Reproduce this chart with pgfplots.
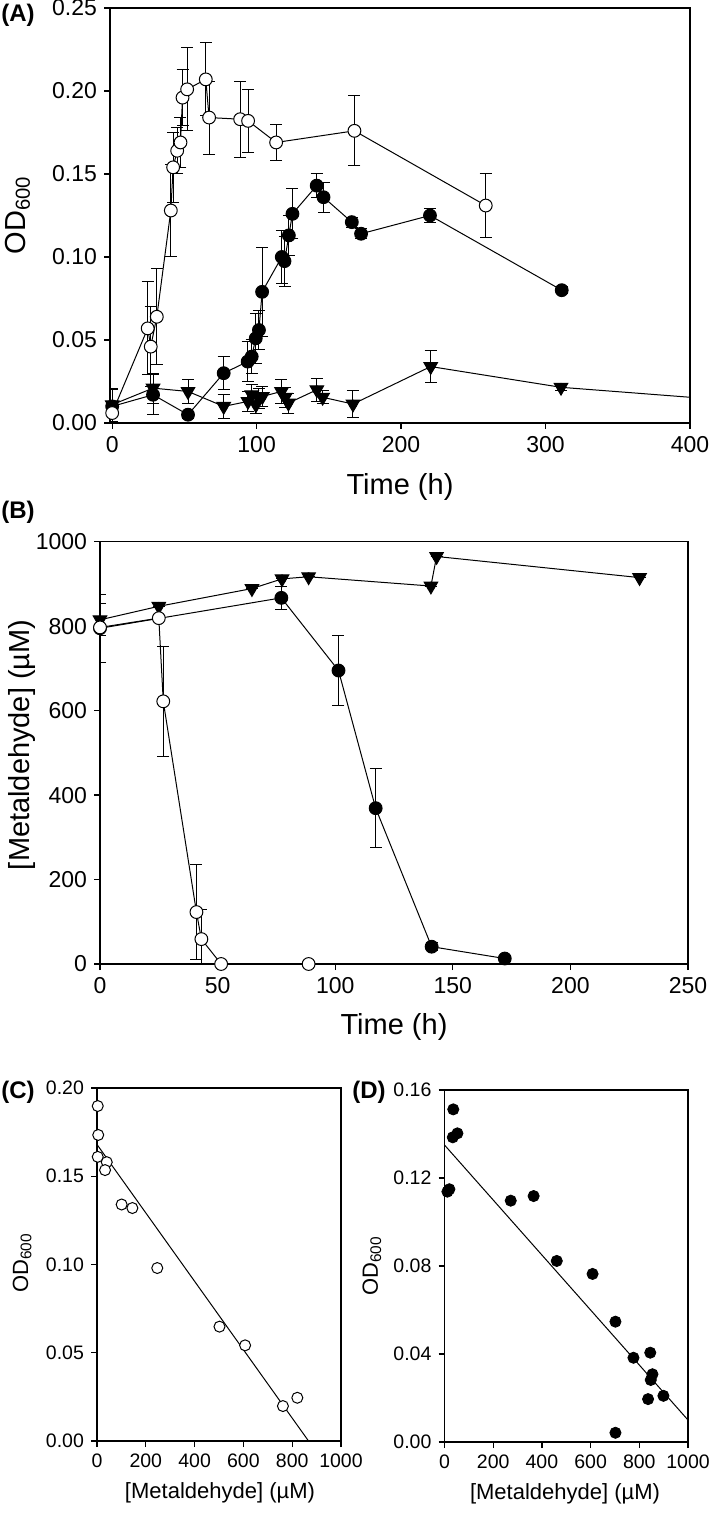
\documentclass[border=0pt]{standalone}
\usepackage{fontspec}
\setmainfont{Liberation Sans}
\usepackage{pgfplots}
\usepackage{pgfplotstable}
\pgfplotsset{compat=1.18}

% Panel A: OD600 vs time
\pgfplotstableread{
x y e
0 0.006 0.006
24.6 0.057 0.028
26.7 0.046 0.024
30.9 0.064 0.029
40.6 0.128 0.028
42.2 0.154 0.021
45.0 0.164 0.014
47.3 0.169 0.015
48.7 0.196 0.017
51.9 0.201 0.025
64.8 0.207 0.022
67.1 0.184 0.022
88.6 0.183 0.023
94.1 0.182 0.019
113.5 0.169 0.011
167.7 0.176 0.021
258.6 0.131 0.0195
}\Aopen
\pgfplotstableread{
x y e
0 0.010 0.010
28.3 0.017 0.012
52.5 0.005 0.002
77.2 0.030 0.010
93.8 0.037 0.012
96.6 0.040 0.010
99.4 0.051 0.015
101.6 0.056 0.012
103.8 0.079 0.027
117.4 0.100 0.016
119.3 0.0975 0.015
122.3 0.113 0.012
124.8 0.126 0.015
141.6 0.143 0.007
146.3 0.136 0.009
165.9 0.121 0.003
172.3 0.114 0.003
220.0 0.125 0.004
311.2 0.080 0.002
}\Afill
\pgfplotstableread{
x y e
0 0.011 0.010
28.3 0.021 0.009
52.5 0.019 0.007
77.2 0.010 0.007
94.0 0.013 0.006
96.6 0.017 0.006
99.5 0.011 0.005
101.5 0.015 0.006
104.0 0.016 0.006
117.2 0.019 0.007
119.8 0.0155 0.006
122.0 0.012 0.006
141.7 0.020 0.007
145.7 0.0155 0.004
166.7 0.0114 0.008
220.5 0.034 0.0095
310.7 0.0215 0.002
}\Atri

% Panel B: metaldehyde vs time
\pgfplotstableread{
x y e
0 797 0
25 819 0
26.9 622 130
41 123 112
43.1 59 70
51.5 0 0
88.7 0 0
}\Bopen
\pgfplotstableread{
x y e
0 795 80
77.1 867 28
101.4 695 84
117.2 369 93
141 41 10
172.1 13 5
}\Bfill
\pgfplotstableread{
x y e
0 815 38
25 847 0
64.6 889 0
77.4 912 0
88.7 917 0
140.7 895 0
143.1 965 0
229.4 915 0
}\Btri

% Panel C
\pgfplotstableread{
x y
3 0.1898
5 0.1734
3 0.161
40 0.158
33 0.1535
101 0.134
145 0.132
247 0.098
502 0.0648
607 0.0542
762 0.0198
821 0.0245
}\Cdata

% Panel D
\pgfplotstableread{
x y
36 0.1512
34 0.1385
53 0.1403
12 0.1138
20 0.1149
272 0.1097
366 0.1118
461 0.0823
608 0.0764
702 0.0547
776 0.0383
845 0.0406
854 0.0308
847 0.0282
836 0.0195
899 0.0210
702 0.0042
}\Ddata

\pgfplotsset{
  panel/.style={scale only axis, axis line style={line width=0.6pt},
    tick pos=left, tick align=outside, major tick length=3pt,
    every tick/.style={black, line width=0.6pt},
    /pgf/number format/assume math mode=true,
    /pgf/number format/1000 sep={}},
  bigfont/.style={tick label style={font=\fontsize{11.5}{13}\selectfont},
    label style={font=\fontsize{14.5}{16}\selectfont}},
  smallfont/.style={tick label style={font=\fontsize{9.75}{11}\selectfont},
    label style={font=\fontsize{11}{13}\selectfont}},
  twodec/.style={yticklabel style={/pgf/number format/.cd, fixed, fixed zerofill, precision=2}},
  errs/.style={forget plot, black, only marks, mark=none,
    error bars/.cd, y dir=both, y explicit, error mark=|,
    error bar style={draw=black, line width=0.5pt, solid},
    error mark options={draw=black, mark size=3pt, line width=0.5pt}},
  openc/.style={black, line width=0.5pt, mark=*, mark size=3.2pt,
    mark options={fill=white, draw=black, line width=0.5pt, solid}},
  fillc/.style={black, line width=0.5pt, mark=*, mark size=3.2pt,
    mark options={fill=black, draw=black, solid}},
  tri/.style={black, line width=0.5pt, mark=triangle*, mark size=3.9pt,
    mark options={fill=black, draw=black, rotate=180, solid}},
}

\begin{document}
\begin{tikzpicture}
\useasboundingbox (0,0) rectangle (354.5pt,-756.5pt);

% ---------------- Panel A ----------------
\begin{axis}[panel, bigfont, twodec,
  at={(55pt,-4pt)}, anchor=north west, width=290pt, height=207.5pt,
  xmin=-1.5, xmax=400, ymin=0, ymax=0.25,
  xtick={0,100,200,300,400}, ytick={0,0.05,0.10,0.15,0.20,0.25},
  xlabel={Time (h)}, ylabel={OD\textsubscript{600}},
  xlabel style={at={(axis description cs:0.5,-0.154)}, anchor=center},
  ylabel style={at={(axis description cs:-0.159,0.501)}, anchor=center}]
\addplot[errs] table[x=x,y=y,y error=e] {\Atri};
\addplot[errs] table[x=x,y=y,y error=e] {\Afill};
\addplot[errs] table[x=x,y=y,y error=e] {\Aopen};
\addplot[black, line width=0.5pt, mark=none, forget plot] coordinates {(310.7,0.0215) (400,0.0155)};
\addplot[tri] table[x=x,y=y] {\Atri};
\addplot[fillc] table[x=x,y=y] {\Afill};
\addplot[openc] table[x=x,y=y] {\Aopen};
\end{axis}

% ---------------- Panel B ----------------
\begin{axis}[panel, bigfont,
  at={(50pt,-270.85pt)}, anchor=north west, width=294pt, height=211.15pt,
  xmin=0, xmax=250, ymin=0, ymax=1000,
  xtick={0,50,100,150,200,250}, ytick={0,200,400,600,800,1000},
  xlabel={Time (h)}, ylabel={[Metaldehyde] (µM)},
  xlabel style={at={(axis description cs:0.5,-0.149)}, anchor=center},
  ylabel style={at={(axis description cs:-0.133,0.519)}, anchor=center}]
\addplot[errs] table[x=x,y=y,y error=e] {\Btri};
\addplot[errs] table[x=x,y=y,y error=e] {\Bfill};
\addplot[errs] table[x=x,y=y,y error=e] {\Bopen};
\addplot[tri] table[x=x,y=y] {\Btri};
\addplot[fillc] table[x=x,y=y] {\Bfill};
\addplot[openc] table[x=x,y=y] {\Bopen};
\end{axis}

% ---------------- Panel C ----------------
\begin{axis}[panel, smallfont, twodec,
  at={(48.5pt,-544pt)}, anchor=north west, width=122pt, height=176.5pt,
  xmin=0, xmax=1000, ymin=0, ymax=0.20,
  xtick={0,200,400,600,800,1000}, ytick={0,0.05,0.10,0.15,0.20},
  xlabel={[Metaldehyde] (µM)}, ylabel={OD\textsubscript{600}},
  xlabel style={at={(axis description cs:0.504,-0.147)}, anchor=center},
  ylabel style={at={(axis description cs:-0.307,0.504)}, anchor=center}]
\addplot[black, line width=0.5pt, mark=none] coordinates {(0,0.168) (867,0)};
\addplot[only marks, mark=*, mark size=2.75pt, mark options={fill=white, draw=black, line width=0.5pt}] table[x=x,y=y] {\Cdata};
\end{axis}

% ---------------- Panel D ----------------
\begin{axis}[panel, smallfont, twodec,
  at={(222.25pt,-545pt)}, anchor=north west, width=121.75pt, height=176pt,
  xmin=0, xmax=1000, ymin=0, ymax=0.16,
  xtick={0,200,400,600,800,1000}, ytick={0,0.04,0.08,0.12,0.16},
  xlabel={[Metaldehyde] (µM)}, ylabel={OD\textsubscript{600}},
  xlabel style={at={(axis description cs:0.495,-0.148)}, anchor=center},
  ylabel style={at={(axis description cs:-0.298,0.5)}, anchor=center}]
\addplot[black, line width=0.5pt, mark=none] coordinates {(0,0.135) (1000,0.010)};
\addplot[only marks, mark=*, mark size=2.8pt, mark options={fill=black, draw=black}] table[x=x,y=y] {\Ddata};
\end{axis}

% panel letters
\node[font=\bfseries\fontsize{12}{14}\selectfont] at (9pt,-7.5pt) {(A)};
\node[font=\bfseries\fontsize{12}{14}\selectfont] at (9pt,-256pt) {(B)};
\node[font=\bfseries\fontsize{12}{14}\selectfont] at (9pt,-546pt) {(C)};
\node[font=\bfseries\fontsize{12}{14}\selectfont] at (184.5pt,-546pt) {(D)};
\end{tikzpicture}
\end{document}
